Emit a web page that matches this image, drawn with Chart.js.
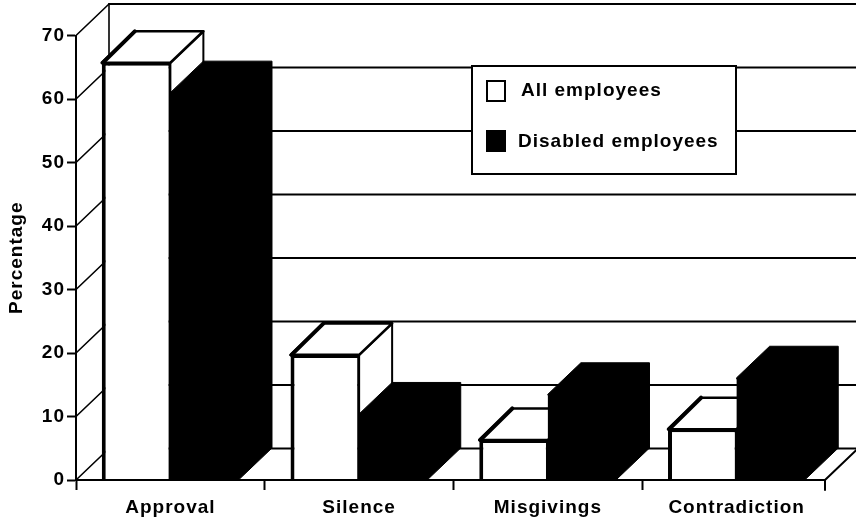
<!DOCTYPE html>
<html>
<head>
<meta charset="utf-8">
<style>html,body{margin:0;padding:0;background:#fff}canvas{display:block}</style>
<script src="https://cdn.jsdelivr.net/npm/chart.js@4/dist/chart.umd.min.js"></script>
</head>
<body>
<canvas id="c" width="856" height="519"></canvas>
<script>
const categories = ['Approval', 'Silence', 'Misgivings', 'Contradiction'];
const allEmployees = [65.7, 19.7, 6.3, 8.0];
const disabledEmployees = [61.0, 10.4, 13.5, 16.1];
const yTicks = [0, 10, 20, 30, 40, 50, 60, 70];
const seriesNames = ['All employees', 'Disabled employees'];

const FAMILY = '"Liberation Sans", Arial, sans-serif';
const FONT = 'bold 19px ' + FAMILY;
const SPACING = '1px';
const DX = 33, DY = 31.5, TRIM = 6;

function poly(ctx, pts, fill, lw) {
  ctx.beginPath();
  pts.forEach((p, i) => i ? ctx.lineTo(p[0], p[1]) : ctx.moveTo(p[0], p[1]));
  ctx.closePath();
  if (fill) { ctx.fillStyle = fill; ctx.fill(); }
  if (lw) { ctx.lineWidth = lw; ctx.strokeStyle = '#000'; ctx.lineJoin = 'round'; ctx.stroke(); }
}
function line(ctx, x0, y0, x1, y1, lw) {
  ctx.beginPath(); ctx.moveTo(x0, y0); ctx.lineTo(x1, y1);
  ctx.lineWidth = lw; ctx.strokeStyle = '#000'; ctx.lineCap = 'round'; ctx.stroke();
}

const wall3d = {
  id: 'wall3d',
  beforeDraw(chart) { chart.ctx.letterSpacing = SPACING; },
  beforeDatasetsDraw(chart) {
    const ctx = chart.ctx, { left, top, bottom } = chart.chartArea, y = chart.scales.y;
    const W = chart.width;
    ctx.save();
    yTicks.forEach(v => {
      const py = y.getPixelForValue(v);
      line(ctx, left, py, left + DX, py - DY, 1.6);
      line(ctx, left + DX, py - DY, W, py - DY, 2);
    });
    line(ctx, left + DX, top - DY, left + DX, bottom - DY, 1.6);
    // floor edge
    const r = chart.chartArea.right - TRIM;
    line(ctx, left, bottom, r, bottom, 2);
    line(ctx, r, bottom, r + DX, bottom - DY, 2);
    line(ctx, r, bottom, r, bottom + 10, 2);
    // extrusions, white first then black over it
    const a = chart.getDatasetMeta(0).data, b = chart.getDatasetMeta(1).data;
    a.forEach((el, i) => {
      const x0 = el.x - el.width / 2, x1 = el.x + el.width / 2, yt = el.y, ba = el.base;
      poly(ctx, [[x1, yt], [x1 + DX, yt - DY], [x1 + DX, ba - DY], [x1, ba]], '#fff', 2);
      poly(ctx, [[x0, yt], [x0 + DX, yt - DY], [x1 + DX, yt - DY], [x1, yt]], '#fff', 2.6);
      line(ctx, x0 + 1, yt, x0 + DX, yt - DY, 4);
      const k = b[i], k0 = k.x - k.width / 2, k1 = k.x + k.width / 2, ky = k.y, kb = k.base;
      poly(ctx, [[k0, ky], [k0 + DX, ky - DY], [k1 + DX, ky - DY], [k1 + DX, kb - DY], [k1, kb]], '#000', 1);
    });
    ctx.restore();
  },
  afterDatasetsDraw(chart) {
    const ctx = chart.ctx, { left, bottom, right } = chart.chartArea;
    ctx.save();
    line(ctx, left, bottom, right - TRIM, bottom, 2);
    // legend box
    const bx = 472, by = 66, bw = 264, bh = 108;
    ctx.fillStyle = '#fff'; ctx.fillRect(bx, by, bw, bh);
    ctx.lineWidth = 2; ctx.strokeStyle = '#000'; ctx.strokeRect(bx, by, bw, bh);
    ctx.lineWidth = 2;
    ctx.strokeRect(487, 81, 18, 20);
    ctx.fillStyle = '#000';
    ctx.fillRect(486, 130, 20, 22);
    ctx.font = FONT; ctx.textAlign = 'left'; ctx.textBaseline = 'middle';
    ctx.letterSpacing = SPACING;
    ctx.fillText(chart.data.datasets[0].label, 521, 91);
    ctx.fillText(chart.data.datasets[1].label, 518, 142);
    ctx.restore();
  }
};

new Chart(document.getElementById('c'), {
  type: 'bar',
  plugins: [wall3d],
  data: {
    labels: categories,
    datasets: [
      { label: seriesNames[0], data: allEmployees, backgroundColor: '#fff', borderColor: '#000',
        borderWidth: { top: 3, left: 4, right: 2, bottom: 0 }, borderSkipped: false },
      { label: seriesNames[1], data: disabledEmployees, backgroundColor: '#000', borderColor: '#000',
        borderWidth: 0 }
    ]
  },
  options: {
    responsive: false,
    animation: false,
    layout: { padding: { top: 35.5, right: 25, bottom: 0, left: 0 } },
    plugins: { legend: { display: false }, tooltip: { enabled: false } },
    datasets: { bar: { categoryPercentage: 0.727, barPercentage: 1 } },
    scales: {
      x: {
        afterFit(s) { s.height = 39; },
        border: { display: false },
        grid: {
          offset: true, drawOnChartArea: false, tickLength: 10, tickWidth: 2,
          tickColor: ctx => (ctx.index === undefined || ctx.index >= categories.length ? 'rgba(0,0,0,0)' : '#000')
        },
        ticks: { color: '#000', font: { family: FAMILY, size: 19, weight: 'bold' },
          maxRotation: 0, autoSkip: false, padding: 6 }
      },
      y: {
        min: 0, max: 70,
        afterFit(s) { s.width = 76; },
        afterBuildTicks(s) { s.ticks = yTicks.map(v => ({ value: v })); },
        border: { display: true, color: '#000', width: 2 },
        grid: { drawOnChartArea: false, tickLength: 9, tickColor: '#000', tickWidth: 2 },
        ticks: { color: '#000', padding: 2, font: { family: FAMILY, size: 19, weight: 'bold' } },
        title: { display: true, text: 'Percentage', color: '#000', padding: { top: 5, bottom: 0 },
          font: { family: FAMILY, size: 19, weight: 'bold' } }
      }
    }
  }
});
</script>
</body>
</html>
